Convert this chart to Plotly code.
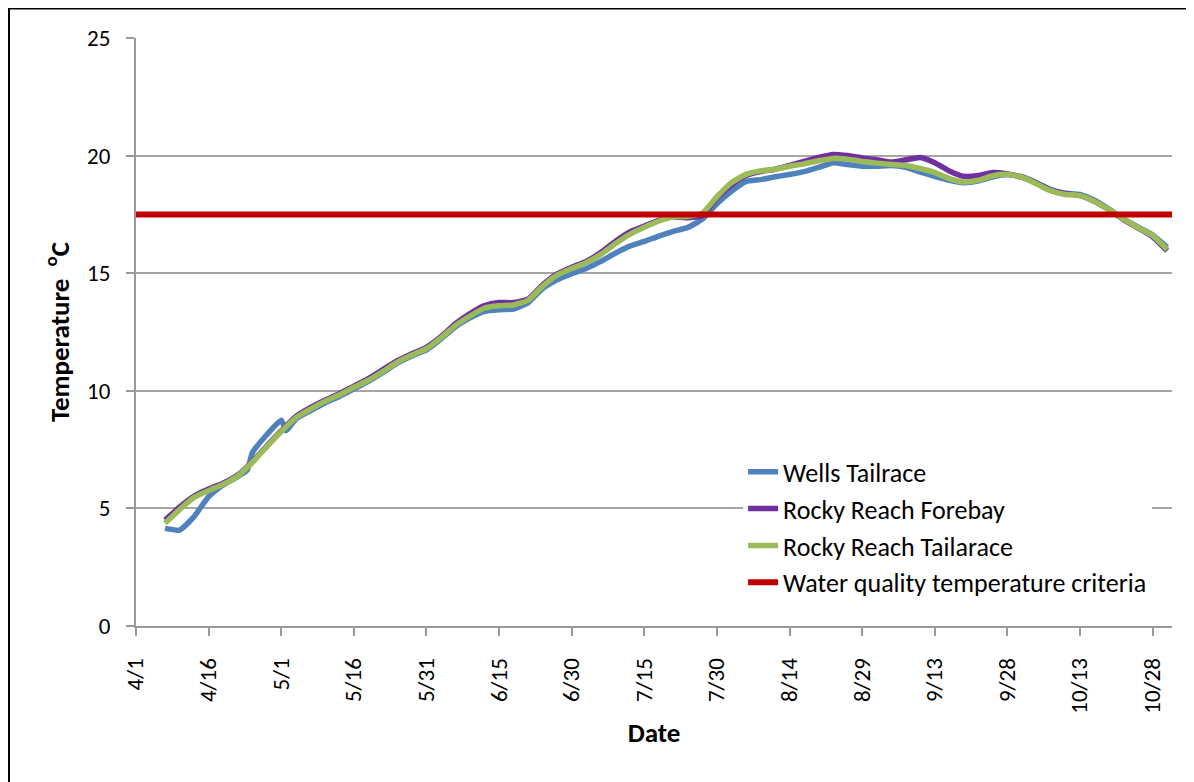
import plotly.graph_objects as go

YEAR = "2013"

dates = ["04-07","04-10","04-13","04-16","04-19","04-22","04-25","04-28","05-01","05-04",
         "05-07","05-10","05-13","05-16","05-19","05-22","05-25","05-28","05-31","06-03",
         "06-06","06-09","06-12","06-15","06-18","06-21","06-24","06-27","06-30","07-03",
         "07-06","07-09","07-12","07-15","07-18","07-21","07-24","07-27","07-30","08-02",
         "08-05","08-08","08-11","08-14","08-17","08-20","08-23","08-26","08-29","09-01",
         "09-04","09-07","09-10","09-13","09-16","09-19","09-22","09-25","09-28","10-01",
         "10-04","10-07","10-10","10-13","10-16","10-19","10-22","10-25","10-28","10-31"]

rr_tailrace = [4.37,4.95,5.47,5.76,6.02,6.38,6.95,7.62,8.27,8.85,
               9.22,9.55,9.83,10.15,10.45,10.82,11.22,11.52,11.79,12.25,
               12.78,13.18,13.52,13.62,13.65,13.85,14.45,14.92,15.2,15.45,
               15.8,16.25,16.65,16.95,17.22,17.4,17.42,17.55,18.25,18.85,
               19.2,19.35,19.42,19.55,19.65,19.78,19.88,19.85,19.75,19.68,
               19.62,19.58,19.45,19.28,19.02,18.88,18.95,19.15,19.2,19.08,
               18.8,18.5,18.35,18.3,18.05,17.7,17.3,16.94,16.6,16.0]

rr_forebay = [4.50,5.05,5.52,5.82,6.07,6.42,6.98,7.65,8.30,8.90,
              9.28,9.6,9.88,10.2,10.52,10.9,11.28,11.58,11.85,12.3,
              12.85,13.28,13.62,13.75,13.75,13.9,14.5,14.97,15.25,15.5,
              15.88,16.35,16.75,17.0,17.25,17.4,17.36,17.45,18.2,18.75,
              19.15,19.32,19.42,19.58,19.75,19.92,20.05,20.0,19.9,19.82,
              19.72,19.82,19.92,19.7,19.35,19.12,19.15,19.28,19.22,19.08,
              18.82,18.52,18.38,18.3,18.05,17.7,17.28,16.92,16.55,15.95]

wells_dates = ["04-07","04-10","04-13","04-16","04-19","04-22","04-24","04-25","04-28","05-01",
               "05-02","05-04","05-07","05-10","05-13","05-16","05-19","05-22","05-25","05-28",
               "05-31","06-03","06-06","06-09","06-12","06-15","06-18","06-21","06-24","06-27",
               "06-30","07-03","07-06","07-09","07-12","07-15","07-18","07-21","07-24","07-27",
               "07-30","08-02","08-05","08-08","08-11","08-14","08-17","08-20","08-23","08-26",
               "08-29","09-01","09-04","09-07","09-10","09-13","09-16","09-19","09-22","09-25",
               "09-28","10-01","10-04","10-07","10-10","10-13","10-16","10-19","10-22","10-25",
               "10-28","10-31"]

wells_tailrace = [4.15,4.08,4.65,5.5,6.0,6.35,6.64,7.35,8.13,8.75,
                  8.3,8.8,9.15,9.48,9.76,10.08,10.4,10.78,11.18,11.48,
                  11.74,12.2,12.72,13.1,13.38,13.45,13.48,13.75,14.35,14.72,
                  14.98,15.2,15.5,15.85,16.15,16.35,16.58,16.78,16.95,17.3,
                  17.95,18.48,18.9,18.98,19.1,19.2,19.32,19.5,19.7,19.62,
                  19.55,19.55,19.58,19.5,19.3,19.12,18.95,18.85,18.92,19.1,
                  19.2,19.1,18.85,18.55,18.4,18.35,18.1,17.72,17.3,16.96,
                  16.62,16.1]

criteria_dates = ["04-01", "11-01"]
criteria = [17.5, 17.5]

tick_dates = ["04-01","04-16","05-01","05-16","05-31","06-15","06-30","07-15",
              "07-30","08-14","08-29","09-13","09-28","10-13","10-28"]
tick_text = ["4/1","4/16","5/1","5/16","5/31","6/15","6/30","7/15",
             "7/30","8/14","8/29","9/13","9/28","10/13","10/28"]

def full(ds):
    return [f"{YEAR}-{d}" for d in ds]

FONT = "Calibri, Carlito, Lato, sans-serif"

fig = go.Figure()
series = [
    ("Wells Tailrace", wells_dates, wells_tailrace, "#4F81BD", 5.5),
    ("Rocky Reach Forebay", dates, rr_forebay, "#7030A0", 5.5),
    ("Rocky Reach Tailarace", dates, rr_tailrace, "#9BBB59", 5.5),
    ("Water quality temperature criteria", criteria_dates, criteria, "#C00000", 6),
]
for i, (name, ds, vals, col, w) in enumerate(series):
    fig.add_trace(go.Scatter(
        x=full(ds), y=vals, name=name, mode="lines",
        line=dict(color=col, width=w, shape="spline", smoothing=0.5),
        legendgroup=f"g{i}",
    ))

W, H = 1186, 774
L, R, T, B = 128, 22, 30, 156

fig.update_layout(
    width=W, height=H, autosize=False,
    margin=dict(l=L, r=R, t=T, b=B),
    paper_bgcolor="white", plot_bgcolor="white",
    font=dict(family=FONT, size=23, color="black"),
    showlegend=True,
    legend=dict(x=0.586, y=0.302, xanchor="left", yanchor="top",
                bgcolor="white", borderwidth=0, tracegroupgap=0,
                font=dict(family=FONT, size=26, color="black")),
    shapes=[dict(type="rect", xref="paper", yref="paper",
                 x0=-0.1226, y0=-0.4, x1=1.1, y1=1.0502,
                 line=dict(color="black", width=2), fillcolor="rgba(0,0,0,0)",
                 layer="above")],
)

fig.update_xaxes(
    type="date", range=[f"{YEAR}-04-01", f"{YEAR}-11-01"],
    tickmode="array", tickvals=full(tick_dates), ticktext=tick_text,
    tickangle=-90, ticks="outside", ticklen=8, tickcolor="#999999", tickwidth=2,
    ticklabelstandoff=13,
    showline=True, linecolor="#999999", linewidth=2, showgrid=False,
    tickfont=dict(family=FONT, size=23),
    title=dict(text="<b>Date</b>", font=dict(family=FONT, size=27), standoff=10),
)
fig.update_yaxes(
    range=[0, 25], tickvals=[0, 5, 10, 15, 20, 25],
    ticks="outside", ticklen=8, tickcolor="#999999", tickwidth=2,
    ticklabelstandoff=11,
    showline=True, linecolor="#999999", linewidth=2,
    showgrid=True, gridcolor="#A6A6A6", gridwidth=2, zeroline=False,
    tickfont=dict(family=FONT, size=23),
    title=dict(text="<b>Temperature  <sup>o</sup>C</b>", font=dict(family=FONT, size=27), standoff=10),
)

fig.write_html("out.html")
